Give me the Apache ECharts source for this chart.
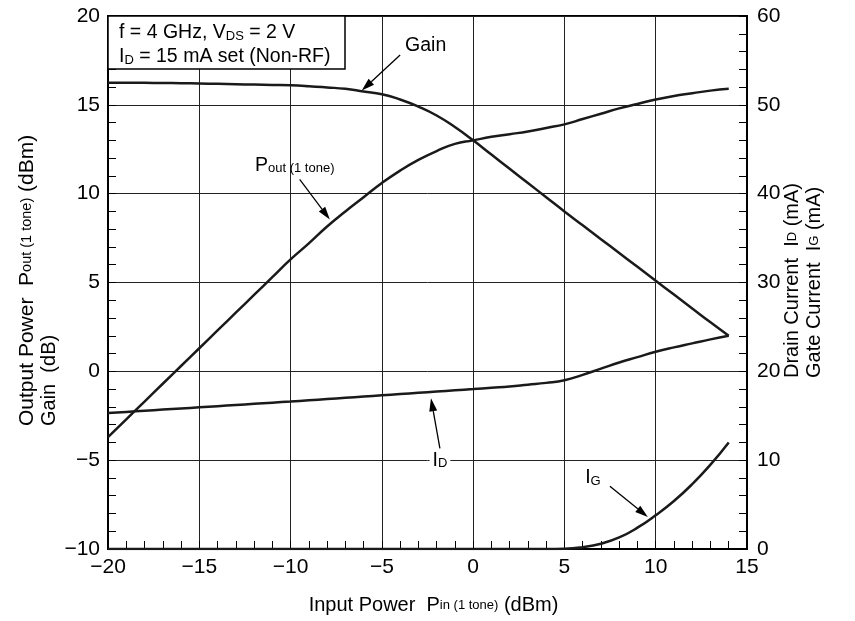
<!DOCTYPE html>
<html><head><meta charset="utf-8">
<script src="https://cdn.jsdelivr.net/npm/echarts@6/dist/echarts.min.js"></script>
<style>html,body{margin:0;padding:0;background:#fff}#c{width:855px;height:621px}</style>
</head><body><div id="c"></div>
<script>
// Input power Pin (1 tone), dBm
const pinIn = [-20,-19,-18,-17,-16,-15,-14,-13,-12,-11,-10,-9,-8,-7,-6,-5,-4,-3,-2,-1,0,1,2,3,4,5,6,7,8,9,10,11,12,13,14];
// Output power Pout (1 tone), dBm (left axis)
const poutVals = [-3.7,-2.7,-1.7,-0.7,0.3,1.3,2.3,3.3,4.3,5.3,6.3,7.2,8.15,9.0,9.8,10.6,11.3,11.9,12.4,12.8,13.0,13.2,13.35,13.5,13.7,13.9,14.2,14.5,14.8,15.05,15.3,15.5,15.65,15.8,15.9];
// Gain, dB (left axis)
const gainVals = [16.25,16.25,16.24,16.23,16.22,16.2,16.18,16.16,16.14,16.12,16.1,16.05,15.98,15.9,15.75,15.6,15.3,14.9,14.4,13.75,13.0,12.2,11.4,10.6,9.8,9.0,8.22,7.44,6.66,5.88,5.1,4.32,3.54,2.76,2.0];
// Drain current ID, mA (right axis)
const idVals = [15.3,15.43,15.56,15.69,15.82,15.95,16.08,16.21,16.34,16.47,16.6,16.74,16.88,17.02,17.16,17.3,17.44,17.58,17.72,17.86,18.0,18.15,18.3,18.5,18.7,19.0,19.6,20.3,21.0,21.6,22.2,22.7,23.15,23.6,24.0];
// Gate current IG, mA (right axis)
const igVals = [0,0,0,0,0,0,0,0,0,0,0,0,0,0,0,0,0,0,0,0,0,0,0,0,0,0.02,0.2,0.6,1.3,2.4,3.8,5.4,7.3,9.5,12.0];

const xTicks = {min:-20, max:15, interval:5};
const leftTicks = {min:-10, max:20, interval:5};
const rightTicks = {min:0, max:60, interval:10};

const FONT = '"Liberation Sans", Arial, Helvetica, sans-serif';
const INK = '#1a1a1a';
const TICK_FS = 21;
const minus = v => String(v).replace('-', '\u2212');

const chart = echarts.init(document.getElementById('c'), null, {renderer:'canvas'});

function axisCommon(extra){
  return Object.assign({
    type:'value',
    axisLine:{show:true,onZero:false,lineStyle:{color:'#000',width:2}},
    axisTick:{show:true,inside:true,length:8,lineStyle:{color:'#000',width:1}},
    minorTick:{show:true,splitNumber:5,length:8,lineStyle:{color:'#000',width:1}},
    splitLine:{show:false}
  }, extra);
}
const lab = m => ({formatter:minus,color:'#000',fontSize:TICK_FS,fontFamily:FONT,margin:m});

const pairs = arr => pinIn.map((p,i)=>[p,arr[i]]);
const lineSeries = (name, arr, yIdx) => ({
  name, type:'line', yAxisIndex:yIdx, data:pairs(arr), showSymbol:false, symbol:'none',
  smooth:true, lineStyle:{color:INK,width:2.5}, z:5
});

chart.setOption({
  animation:false,
  backgroundColor:'#fff',
  grid:{left:108,right:108,top:16,bottom:72,show:true,borderColor:'#000',borderWidth:2},
  xAxis:axisCommon({min:xTicks.min,max:xTicks.max,interval:xTicks.interval,
    axisLabel:lab(8), splitLine:{show:true,lineStyle:{color:'#222',width:1}}}),
  yAxis:[
    axisCommon({position:'left',min:leftTicks.min,max:leftTicks.max,interval:leftTicks.interval,
      axisLabel:lab(8), splitLine:{show:true,lineStyle:{color:'#222',width:1}}}),
    axisCommon({position:'right',min:rightTicks.min,max:rightTicks.max,interval:rightTicks.interval,
      axisLabel:lab(10)})
  ],
  series:[
    lineSeries('Gain', gainVals, 0),
    lineSeries('Pout', poutVals, 0),
    lineSeries('ID', idVals, 1),
    lineSeries('IG', igVals, 1)
  ]
});

// annotation anchors in data coordinates (Pin, left-axis dB)
const notes = {
  gain:{label:[-2.6,18.35], from:[-4.0,17.8], to:[-6.1,15.8]},
  pout:{label:[-11.95,11.6], from:[-9.5,10.8], to:[-7.85,8.55]},
  id:{label:[-1.82,-5.0], from:[-1.82,-4.33], to:[-2.31,-1.52]},
  ig:{label:[6.56,-6.0], from:[7.49,-6.47], to:[9.57,-8.2]}
};

function px(p){ return chart.convertToPixel({xAxisIndex:0,yAxisIndex:0}, p); }
function arrow(a,b){
  const A=px(a), B=px(b);
  const dx=B[0]-A[0], dy=B[1]-A[1], L=Math.hypot(dx,dy), ux=dx/L, uy=dy/L;
  const hl=13, hw=4;
  const bx=B[0]-ux*hl, by=B[1]-uy*hl;
  return [
    {type:'line',shape:{x1:A[0],y1:A[1],x2:bx,y2:by},style:{stroke:'#000',lineWidth:1.3},z:20},
    {type:'polygon',shape:{points:[[B[0],B[1]],[bx-uy*hw,by+ux*hw],[bx+uy*hw,by-ux*hw]]},style:{fill:'#000'},z:20}
  ];
}
const rich = {
  b:{fontSize:19.5,fontFamily:FONT,color:'#000'},
  s:{fontSize:13,fontFamily:FONT,color:'#000',verticalAlign:'bottom'},
  t:{fontSize:20,fontFamily:FONT,color:'#000'},
  ts:{fontSize:13,fontFamily:FONT,color:'#000'},
  L:{fontSize:21,fontFamily:FONT,color:'#000'},
  Ls:{fontSize:14.5,fontFamily:FONT,color:'#000'}
};
function label(pos, text, align, bg){
  const P=px(pos);
  return {type:'text',x:P[0],y:P[1],z:25,style:{text, rich, align:align||'center', verticalAlign:'middle',
    backgroundColor:bg||'transparent', padding:bg?[0,3]:0}};
}

const g = [];
// info box
const c1 = px([-20,20]);
g.push({type:'rect',shape:{x:c1[0],y:c1[1],width:237,height:53},style:{fill:'#fff',stroke:'#000',lineWidth:1.5},z:15});
g.push({type:'text',x:c1[0]+11,y:c1[1]+17,z:16,style:{text:'{b|f = 4 GHz, V}{s|DS}{b| = 2 V}',rich,align:'left',verticalAlign:'middle'}});
g.push({type:'text',x:c1[0]+11,y:c1[1]+41,z:16,style:{text:'{b|I}{s|D}{b| = 15 mA set (Non-RF)}',rich,align:'left',verticalAlign:'middle'}});

g.push(label(notes.gain.label,'{b|Gain}'));
g.push(...arrow(notes.gain.from,notes.gain.to));
g.push(label(notes.pout.label,'{b|P}{s|out (1 tone)}','left'));
g.push(...arrow(notes.pout.from,notes.pout.to));
g.push(label(notes.id.label,'{b|I}{s|D}','center','#fff'));
g.push(...arrow(notes.id.from,notes.id.to));
g.push(label(notes.ig.label,'{b|I}{s|G}'));
g.push(...arrow(notes.ig.from,notes.ig.to));

// axis titles
const gb = chart.getModel().getComponent('grid',0).coordinateSystem.getRect();
g.push({type:'text',x:gb.x+gb.width/2+6,y:gb.y+gb.height+56,style:{text:'{t|Input Power  P}{ts|in (1 tone)}{t| (dBm)}',rich,align:'center',verticalAlign:'middle'}});
g.push({type:'text',x:27,y:426,rotation:Math.PI/2,style:{text:'{L|Output Power  P}{Ls|out (1 tone)}{L| (dBm)}',rich,align:'left',verticalAlign:'middle'}});
g.push({type:'text',x:49,y:426,rotation:Math.PI/2,style:{text:'{t|Gain  (dB)}',rich,align:'left',verticalAlign:'middle'}});
g.push({type:'text',x:792,y:378,rotation:Math.PI/2,style:{text:'{t|Drain Current  I}{ts|D}{t| (mA)}',rich,align:'left',verticalAlign:'middle'}});
g.push({type:'text',x:814,y:378,rotation:Math.PI/2,style:{text:'{t|Gate Current  I}{ts|G}{t| (mA)}',rich,align:'left',verticalAlign:'middle'}});

chart.setOption({graphic:g});
</script></body></html>
